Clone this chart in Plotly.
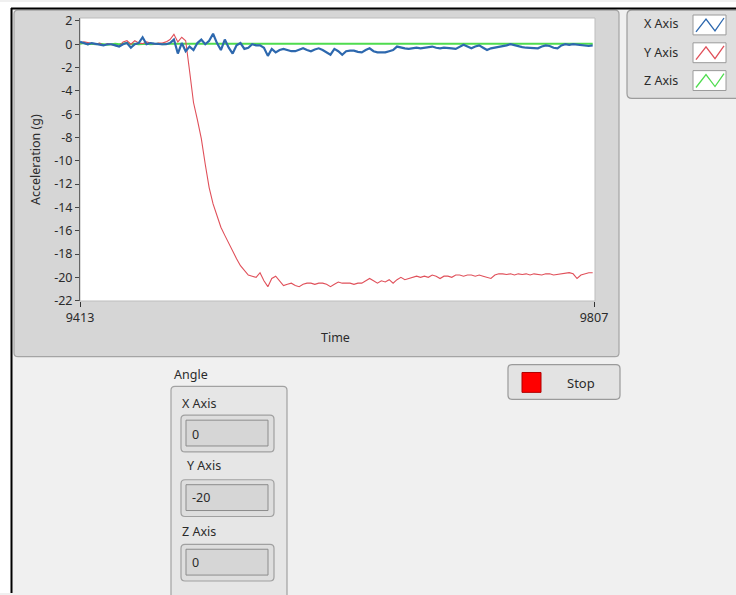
import plotly.graph_objects as go

# ---------------- data ----------------
time = list(range(9413, 9808, 3))

x_axis_accel = [
    0.2, 0.1, 0.0, 0.1, 0.05, -0.05, -0.1, 0.0, 0.0, -0.1,
    -0.2, 0.0, 0.1, -0.3, 0.0, 0.1, 0.6, 0.0, 0.1, 0.05,
    0.0, 0.0, 0.0, 0.1, 0.4, -0.8, 0.1, -0.6, -0.2, -0.5,
    0.1, 0.4, 0.0, 0.3, 0.9, 0.1, -0.5, 0.4, -0.3, -0.8,
    -0.1, 0.1, -0.4, -0.3, 0.0, -0.1, -0.1, -0.3, -1.0, -0.4,
    -0.7, -0.5, -0.4, -0.5, -0.6, -0.6, -0.5, -0.35, -0.5, -0.6,
    -0.45, -0.35, -0.5, -0.7, -0.9, -0.4, -0.6, -0.9, -0.6, -0.55,
    -0.55, -0.65, -0.7, -0.5, -0.35, -0.6, -0.7, -0.7, -0.7, -0.6,
    -0.5, -0.2, -0.3, -0.35, -0.4, -0.35, -0.3, -0.35, -0.3, -0.2,
    -0.2, -0.3, -0.35, -0.3, -0.3, -0.35, -0.4, -0.2, -0.05, -0.2,
    -0.35, -0.2, -0.1, -0.3, -0.5, -0.35, -0.3, -0.2, -0.2, -0.1,
    0.0, -0.1, -0.2, -0.25, -0.3, -0.3, -0.35, -0.35, -0.2, -0.1,
    -0.15, -0.3, -0.35, -0.1, 0.0, -0.05, 0.0, -0.05, -0.1, -0.1, -0.15, -0.1,
]

y_axis_accel = [
    0.1, 0.2, 0.15, 0.1, 0.0, 0.1, -0.1, 0.05, 0.0, -0.1,
    -0.2, 0.2, 0.3, 0.0, 0.3, 0.1, 0.05, 0.2, 0.1, 0.0,
    0.1, 0.1, 0.2, 0.4, 0.85, 0.2, 0.6, 0.3, -2.3, -5.0,
    -6.5, -8.1, -10.3, -12.3, -13.7, -14.8, -15.7, -16.4, -17.1, -17.7,
    -18.4, -19.0, -19.4, -19.8, -19.9, -20.0, -19.6, -20.3, -20.8, -20.1,
    -19.9, -20.3, -20.7, -20.6, -20.5, -20.7, -20.8, -20.6, -20.5, -20.5,
    -20.6, -20.5, -20.5, -20.6, -20.8, -20.6, -20.4, -20.5, -20.5, -20.5,
    -20.6, -20.5, -20.5, -20.3, -20.1, -20.3, -20.5, -20.3, -20.4, -20.2,
    -20.5, -20.2, -20.0, -20.2, -20.1, -19.95, -19.9, -20.0, -19.9, -20.0,
    -19.8, -19.9, -20.1, -19.9, -19.9, -20.0, -19.8, -19.8, -19.9, -19.8,
    -19.8, -19.9, -19.8, -19.9, -20.0, -20.1, -19.8, -19.7, -19.7, -19.75,
    -19.7, -19.8, -19.7, -19.75, -19.7, -19.8, -19.7, -19.75, -19.8, -19.7,
    -19.7, -19.8, -19.75, -19.7, -19.65, -19.6, -19.7, -20.1, -19.8, -19.7, -19.6, -19.6,
]

z_axis_accel = [
    0.05, 0.1, 0.0, 0.05, 0.0, 0.05, 0.0, -0.05, 0.0, 0.05,
    0.0, 0.05, 0.1, 0.0, 0.05, 0.0, 0.05, 0.05, 0.0, 0.05,
    0.05, 0.0, 0.05, 0.05, 0.05, 0.05, 0.05, 0.05, 0.05, 0.05,
    0.05, 0.05, 0.05, 0.05, 0.05, 0.05, 0.05, 0.05, 0.05, 0.05,
    0.05, 0.05, 0.05, 0.05, 0.05, 0.05, 0.05, 0.05, 0.05, 0.05,
    0.05, 0.05, 0.05, 0.05, 0.05, 0.05, 0.05, 0.05, 0.05, 0.05,
    0.05, 0.05, 0.05, 0.05, 0.05, 0.05, 0.05, 0.05, 0.05, 0.05,
    0.05, 0.05, 0.05, 0.05, 0.05, 0.05, 0.05, 0.05, 0.05, 0.05,
    0.05, 0.05, 0.05, 0.05, 0.05, 0.05, 0.05, 0.05, 0.05, 0.05,
    0.05, 0.05, 0.05, 0.05, 0.05, 0.05, 0.05, 0.05, 0.05, 0.05,
    0.05, 0.05, 0.05, 0.05, 0.05, 0.05, 0.05, 0.05, 0.05, 0.05,
    0.05, 0.05, 0.05, 0.05, 0.05, 0.05, 0.05, 0.05, 0.05, 0.05,
    0.05, 0.05, 0.05, 0.05, 0.05, 0.05, 0.05, 0.05, 0.05, 0.05, 0.05, 0.05,
]

series_names = ["X Axis", "Y Axis", "Z Axis"]
series_colors = ["#2d68ae", "#e0505a", "#4fdc4f"]
y_tick_vals = [2, 0, -2, -4, -6, -8, -10, -12, -14, -16, -18, -20, -22]
y_tick_text = ["2", "0", "-2", "-4", "-6", "-8", "-10", "-12", "-14", "-16", "-18", "-20", "-22"]
x_tick_vals = [9413, 9807]
x_tick_text = ["9413", "9807"]
angle_values = ["0", "-20", "0"]

assert len(time) == len(x_axis_accel) == len(y_axis_accel) == len(z_axis_accel)

# ---------------- layout helpers (pixel -> paper) ----------------
W, H = 736, 595
PL, PR, PT, PB = 80, 594, 16, 301
FONT = "Noto Sans"
TXT = "#2b2b2b"


def px(x):
    return (x - PL) / (PR - PL)


def py(y):
    return (PB - y) / (PB - PT)


def rect(x0, y0, x1, y1, fill, line="rgba(0,0,0,0)", lw=1, layer="below"):
    return dict(type="rect", xref="paper", yref="paper",
                x0=px(x0), x1=px(x1), y0=py(y1), y1=py(y0),
                fillcolor=fill, line=dict(color=line, width=lw), layer=layer)


def rrect(x0, y0, x1, y1, r, fill, line, lw=1, layer="below"):
    pts = [
        ("M", [(x0 + r, y0)]),
        ("L", [(x1 - r, y0)]),
        ("Q", [(x1, y0), (x1, y0 + r)]),
        ("L", [(x1, y1 - r)]),
        ("Q", [(x1, y1), (x1 - r, y1)]),
        ("L", [(x0 + r, y1)]),
        ("Q", [(x0, y1), (x0, y1 - r)]),
        ("L", [(x0, y0 + r)]),
        ("Q", [(x0, y0), (x0 + r, y0)]),
    ]
    path = ""
    for cmd, ps in pts:
        path += cmd + " " + " ".join(f"{px(a):.5f},{py(b):.5f}" for a, b in ps) + " "
    path += "Z"
    return dict(type="path", xref="paper", yref="paper", path=path,
                fillcolor=fill, line=dict(color=line, width=lw), layer=layer)


def seg(x0, y0, x1, y1, color, w):
    return dict(type="line", xref="paper", yref="paper",
                x0=px(x0), x1=px(x1), y0=py(y0), y1=py(y1),
                line=dict(color=color, width=w), layer="above")


def polyline(points, color, w):
    path = "M " + " L ".join(f"{px(a):.5f},{py(b):.5f}" for a, b in points)
    return dict(type="path", xref="paper", yref="paper", path=path,
                line=dict(color=color, width=w), layer="above")


def text(x, y, s, size=12, anchor="left", angle=0, color=TXT):
    return dict(xref="paper", yref="paper", x=px(x), y=py(y), text=s,
                showarrow=False, xanchor=anchor, yanchor="middle",
                textangle=angle, font=dict(family=FONT, size=size, color=color))


# ---------------- figure ----------------
fig = go.Figure()
for vals, name, col, lw in [
    (z_axis_accel, series_names[2], series_colors[2], 2.0),
    (y_axis_accel, series_names[1], series_colors[1], 1.1),
    (x_axis_accel, series_names[0], series_colors[0], 2.2),
]:
    fig.add_trace(go.Scatter(x=time, y=vals, mode="lines", name=name,
                             line=dict(color=col, width=lw), showlegend=False,
                             hoverinfo="skip"))

shapes = [
    # screenshot frame
    rect(0, 0, W, 6, "#ffffff"),
    rect(0, 0, 11, H, "#ffffff"),
    # graph panel
    rrect(14, 8, 619, 357, 4, "#d6d6d6", "#a4a4a4", 1.2),
    # plot area
    rect(PL, PT, PR + 1, PB, "#ffffff", "#bdbdbd", 1),
    # legend box
    rrect(627, 8, 745, 97, 5, "#dfdfdf", "#9c9c9c", 1.2),
    # angle cluster
    rrect(171, 387, 287, 605, 4, "#e6e6e6", "#a2a2a2", 1.2),
    # stop button
    rrect(508, 365, 620, 400, 4, "#e3e3e3", "#9a9a9a", 1.2),
    rect(522, 373, 541, 393, "#ff0000", "#b00000", 1),
    # black frame lines
    seg(11, 6.5, W, 6.5, "#000000", 2),
    seg(11.5, 6, 11.5, H, "#000000", 2),
]

# legend swatches
for i, (ytop, col) in enumerate(zip([13, 41, 69], series_colors)):
    shapes.append(rect(693, ytop, 726, ytop + 20, "#ffffff", "#9a9a9a", 1))
    shapes.append(polyline([(696, ytop + 17), (706, ytop + 4), (715, ytop + 16), (724, ytop + 3)], col, 1.3))

# numeric indicators
for ytop in [416, 481, 546]:
    shapes.append(rrect(181, ytop, 274, ytop + 37, 4, "#dedede", "#a0a0a0", 1.2))
    shapes.append(rect(186, ytop + 5, 268, ytop + 31, "#d6d6d6", "#8c8c8c", 1))

annotations = [
    text(335, 338, "Time", 12.5, "center"),
    text(36, 159, "Acceleration (g)", 12.5, "center", -90),
    text(642, 22, series_names[0], 12.5),
    text(642, 51, series_names[1], 12.5),
    text(642, 79, series_names[2], 12.5),
    text(172, 375, "Angle", 12.5),
    text(180, 404, series_names[0], 12.5),
    text(185, 467, series_names[1], 12.5),
    text(180, 533, series_names[2], 12.5),
    text(190, 435, angle_values[0], 12.5),
    text(190, 499, angle_values[1], 12.5),
    text(190, 564, angle_values[2], 12.5),
    text(581, 384, "Stop", 13, "center"),
]

fig.update_layout(
    width=W, height=H,
    margin=dict(l=PL, r=W - PR, t=PT, b=H - PB, pad=0),
    paper_bgcolor="#f0f0f0",
    plot_bgcolor="#ffffff",
    shapes=shapes,
    annotations=annotations,
    showlegend=False,
    hovermode=False,
    font=dict(family=FONT, size=12, color=TXT),
)
fig.update_xaxes(range=[9413, 9807], tickvals=x_tick_vals, ticktext=x_tick_text,
                 ticks="outside", ticklen=5, tickcolor="#333333", tickwidth=1,
                 showgrid=False, zeroline=False, showline=False,
                 tickfont=dict(family=FONT, size=12.5, color=TXT))
fig.update_yaxes(range=[-22.03, 2.25], tickvals=y_tick_vals, ticktext=y_tick_text,
                 ticks="outside", ticklen=4, tickcolor="#444444", tickwidth=1,
                 showgrid=False, zeroline=False, showline=True,
                 linecolor="#666666", linewidth=1,
                 tickfont=dict(family=FONT, size=12.5, color=TXT))

fig.write_html(
    "out.html",
    config={"displayModeBar": False, "staticPlot": True},
    post_script="document.body.style.margin='0';document.body.style.padding='0';",
)
